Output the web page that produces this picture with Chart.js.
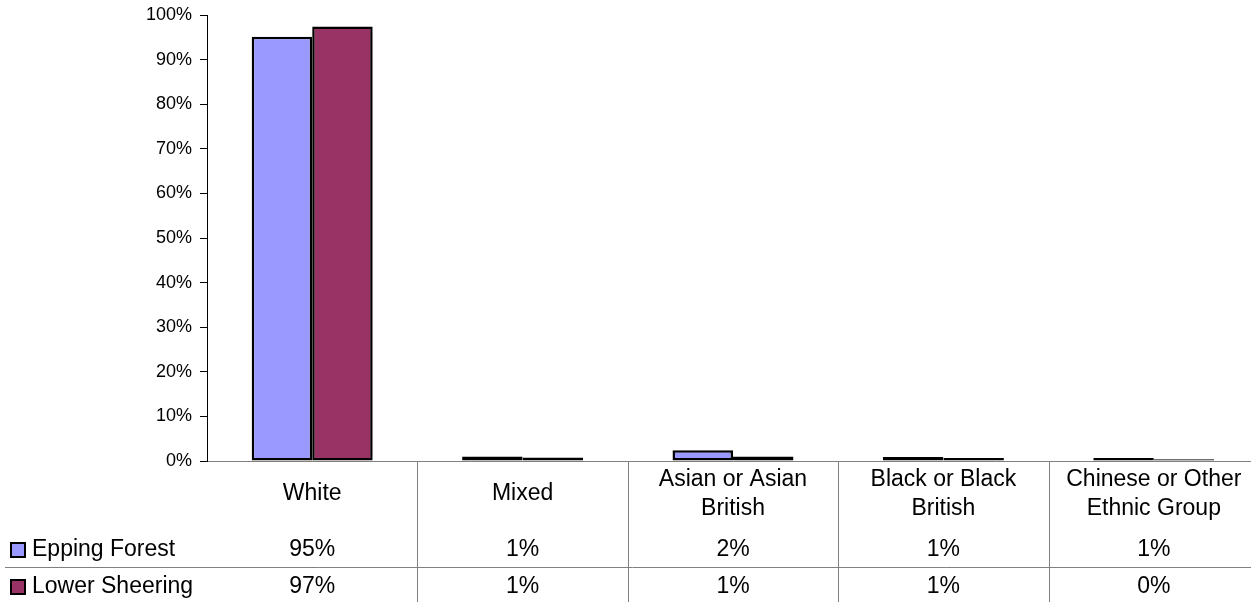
<!DOCTYPE html>
<html>
<head>
<meta charset="utf-8">
<script src="https://cdn.jsdelivr.net/npm/chart.js@4"></script>
<style>
  html, body { margin: 0; padding: 0; background: #fff; overflow: hidden; }
  #wrap { width: 1260px; height: 602px; position: relative; }
</style>
</head>
<body>
<div id="wrap"><canvas id="ethnicChart"></canvas></div>
<script>
// data (percent of population)
const categories = ['White', 'Mixed', 'Asian or Asian British', 'Black or Black British', 'Chinese or Other Ethnic Group'];
const seriesNames = ['Epping Forest', 'Lower Sheering'];
const eppingForest = [95.1, 1.0, 2.4, 0.9, 0.7];
const lowerSheering = [97.4, 0.8, 1.0, 0.7, 0.4];
const tickValues = [0, 10, 20, 30, 40, 50, 60, 70, 80, 90, 100];

const colors = ['#9999FF', '#993366'];
const FONT = '"Liberation Sans", Arial, sans-serif';

// wrap a label into lines that fit the column
function wrapText(ctx, text, maxWidth) {
    const words = text.split(' ');
    const lines = [];
    let line = '';
    words.forEach(w => {
        const test = line ? line + ' ' + w : w;
        if (ctx.measureText(test).width > maxWidth && line) {
            lines.push(line);
            line = w;
        } else {
            line = test;
        }
    });
    if (line) lines.push(line);
    return lines;
}

// excel style data table under the plot
const dataTable = {
    id: 'dataTable',
    afterDraw(chart) {
        const ctx = chart.ctx;
        const x = chart.scales.x;
        const area = chart.chartArea;
        const colW = (area.right - area.left) / categories.length;
        const rowLine = 567;
        const bottom = chart.height;

        ctx.save();
        ctx.strokeStyle = '#808080';
        ctx.lineWidth = 1;

        // column separators
        for (let i = 1; i <= categories.length; i++) {
            const bx = Math.round(area.left + colW * i) + 0.5;
            ctx.beginPath();
            ctx.moveTo(bx, area.bottom);
            ctx.lineTo(bx, bottom);
            ctx.stroke();
        }
        // row separator
        ctx.beginPath();
        ctx.moveTo(5, rowLine + 0.5);
        ctx.lineTo(chart.width, rowLine + 0.5);
        ctx.stroke();

        ctx.fillStyle = '#000';
        ctx.font = '23px ' + FONT;
        ctx.textAlign = 'center';
        ctx.textBaseline = 'middle';

        // category labels
        categories.forEach((c, i) => {
            const cx = x.getPixelForValue(i);
            const lines = wrapText(ctx, c, colW - 10);
            const lh = 29;
            const top = 494 - (lines.length - 1) * lh / 2;
            lines.forEach((l, j) => ctx.fillText(l, cx, top + j * lh));
        });

        // values rows
        const rows = [eppingForest, lowerSheering];
        const rowY = [550, 587];
        rows.forEach((vals, r) => {
            vals.forEach((v, i) => {
                ctx.fillText(Math.round(v) + '%', x.getPixelForValue(i), rowY[r]);
            });
        });

        // legend keys
        ctx.textAlign = 'left';
        seriesNames.forEach((name, r) => {
            const ky = rowY[r] - 8;
            ctx.fillStyle = colors[r];
            ctx.fillRect(10, ky, 16, 16);
            ctx.strokeStyle = '#000';
            ctx.lineWidth = 2;
            ctx.strokeRect(11, ky + 1, 14, 14);
            ctx.fillStyle = '#000';
            ctx.fillText(name, 32, rowY[r]);
        });
        ctx.restore();
    }
};

new Chart(document.getElementById('ethnicChart').getContext('2d'), {
    type: 'bar',
    data: {
        labels: categories,
        datasets: [{
            label: seriesNames[0],
            data: eppingForest,
            backgroundColor: colors[0],
            borderColor: '#000',
            borderWidth: 2.5,
            borderSkipped: false
        }, {
            label: seriesNames[1],
            data: lowerSheering,
            backgroundColor: colors[1],
            borderColor: '#000',
            borderWidth: 2.5,
            borderSkipped: false
        }]
    },
    options: {
        responsive: true,
        maintainAspectRatio: false,
        animation: false,
        datasets: {
            bar: { categoryPercentage: 0.575, barPercentage: 1.0 }
        },
        layout: { padding: { left: 0, top: 15, right: 1, bottom: 141 } },
        plugins: {
            legend: { display: false },
            tooltip: { enabled: false }
        },
        scales: {
            x: {
                ticks: { display: false },
                grid: { display: false },
                border: { display: true, color: '#808080', width: 1 },
                afterFit: function (scale) { scale.height = 0; }
            },
            y: {
                min: 0,
                max: 100,
                afterBuildTicks: function (scale) {
                    scale.ticks = tickValues.map(v => ({ value: v }));
                },
                ticks: {
                    color: '#000',
                    padding: 8,
                    font: { family: FONT, size: 18 },
                    callback: function (value) {
                        return value + '%';
                    }
                },
                grid: {
                    drawOnChartArea: false,
                    drawTicks: true,
                    tickLength: 7,
                    color: '#000'
                },
                border: { display: true, color: '#000', width: 1 },
                afterFit: function (scale) {
                    scale.width = 207;
                    scale.paddingTop = 0;
                    scale.paddingBottom = 0;
                }
            }
        }
    },
    plugins: [dataTable]
});
</script>
</body>
</html>
